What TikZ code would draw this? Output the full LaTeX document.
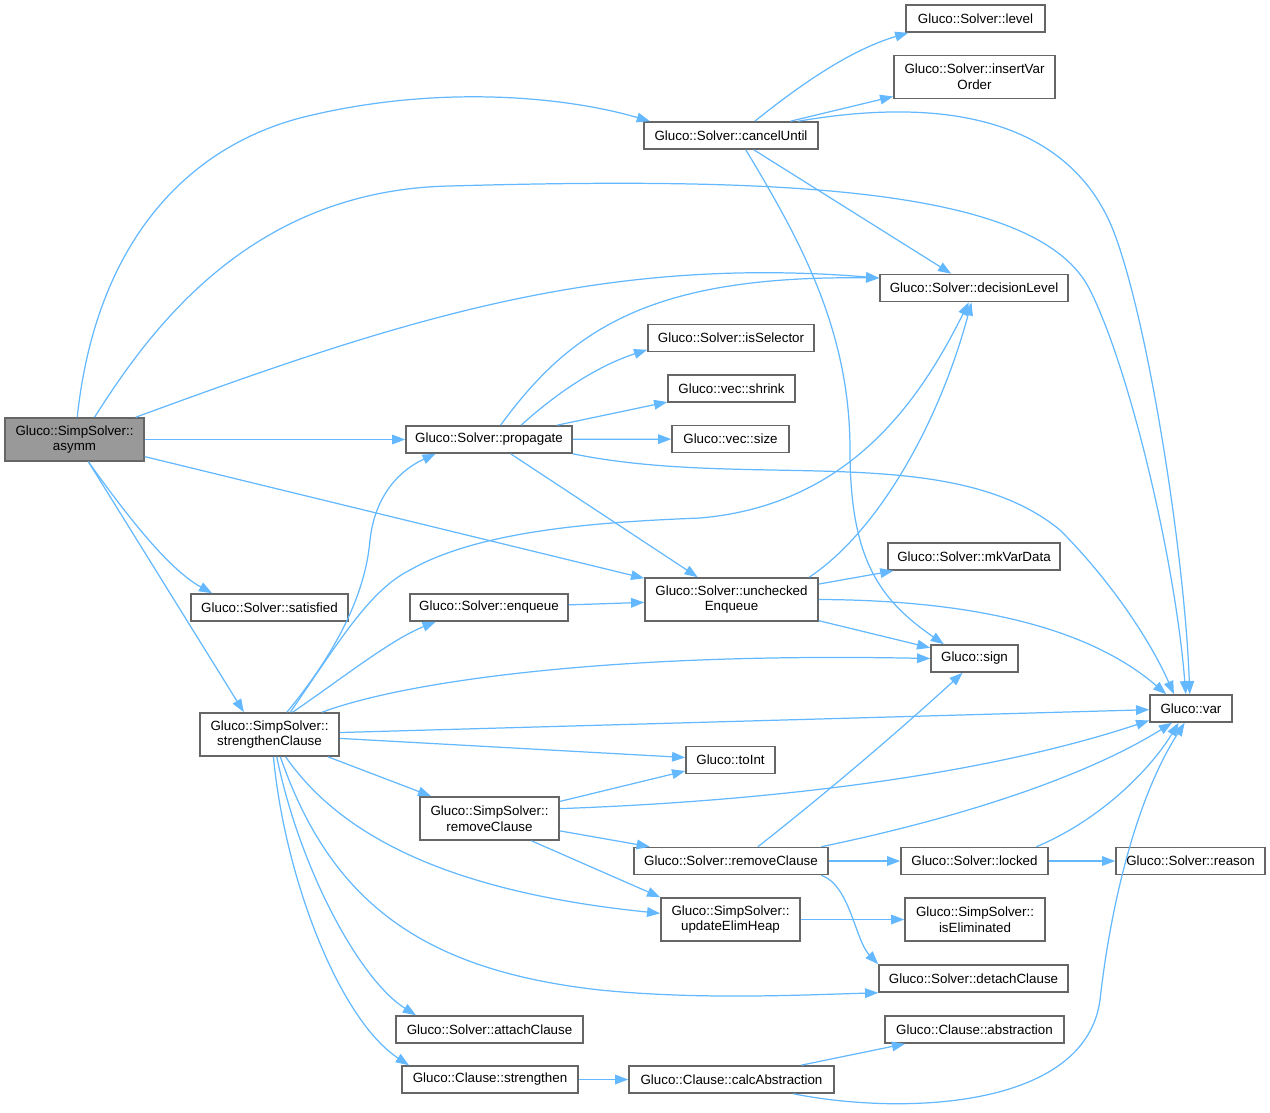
\documentclass[tikz,border=0pt]{standalone}
\usepackage{fontspec}
\setmainfont{Liberation Sans}
\usepackage{xcolor}
\usetikzlibrary{arrows.meta}

\definecolor{edgeblue}{HTML}{63B8FF}
\definecolor{boxgray}{HTML}{666666}
\definecolor{curgray}{HTML}{999999}

\begin{document}
\begin{tikzpicture}[x=0.02cm, y=-0.02cm,
    func/.style={draw=boxgray, line width=0.9pt, fill=white, inner sep=0pt,
      minimum height=0.54cm, align=center, font=\fontsize{7.6}{9}\selectfont},
    twoline/.style={minimum height=0.86cm},
    curfunc/.style={func, twoline, fill=curgray},
    calls/.style={->, draw=edgeblue, line width=0.7pt},
    >={Triangle[length=7.5pt, width=5.5pt]}]
    \useasboundingbox (0,0) rectangle (1270,1112);

    % Functions
    \node[curfunc, minimum width=2.78cm] (asymm) at (74.5,439.5) {Gluco::SimpSolver::\\asymm};
    \node[func, minimum width=3.48cm] (cancelUntil) at (731,135.5) {Gluco::Solver::cancelUntil};
    \node[func, minimum width=2.78cm] (level) at (975.5,18.5) {Gluco::Solver::level};
    \node[func, twoline, minimum width=3.22cm] (insertVarOrder) at (974.5,77) {Gluco::Solver::insertVar\\Order};
    \node[func, minimum width=3.76cm] (decisionLevel) at (974,288) {Gluco::Solver::decisionLevel};
    \node[func, minimum width=3.32cm] (isSelector) at (731,338) {Gluco::Solver::isSelector};
    \node[func, minimum width=2.54cm] (shrink) at (731.5,388.5) {Gluco::vec::shrink};
    \node[func, minimum width=2.34cm] (size) at (730.5,439) {Gluco::vec::size};
    \node[func, minimum width=3.32cm] (propagate) at (489,439.5) {Gluco::Solver::propagate};
    \node[func, minimum width=3.14cm] (satisfied) at (269.5,607.5) {Gluco::Solver::satisfied};
    \node[func, minimum width=3.16cm] (enqueue) at (489,607.5) {Gluco::Solver::enqueue};
    \node[func, twoline, minimum width=3.46cm] (uncheckedEnqueue) at (731.5,599.5) {Gluco::Solver::unchecked\\Enqueue};
    \node[func, minimum width=3.44cm] (mkVarData) at (974,556.5) {Gluco::Solver::mkVarData};
    \node[func, minimum width=1.74cm] (sign) at (974.5,658.5) {Gluco::sign};
    \node[func, minimum width=1.64cm] (var) at (1191,708.5) {Gluco::var};
    \node[func, twoline, minimum width=2.78cm] (strengthenClause) at (269.5,734.5) {Gluco::SimpSolver::\\strengthenClause};
    \node[func, minimum width=1.78cm] (toInt) at (730.5,760) {Gluco::toInt};
    \node[func, twoline, minimum width=2.78cm] (ssRemoveClause) at (489.5,818.5) {Gluco::SimpSolver::\\removeClause};
    \node[func, minimum width=3.88cm] (removeClause) at (731,861) {Gluco::Solver::removeClause};
    \node[func, minimum width=2.94cm] (locked) at (974.5,861) {Gluco::Solver::locked};
    \node[func, minimum width=2.98cm] (reason) at (1190.5,861) {Gluco::Solver::reason};
    \node[func, twoline, minimum width=2.78cm] (updateElimHeap) at (730.5,919.5) {Gluco::SimpSolver::\\updateElimHeap};
    \node[func, twoline, minimum width=2.8cm] (isEliminated) at (975,919.5) {Gluco::SimpSolver::\\isEliminated};
    \node[func, minimum width=3.78cm] (detachClause) at (973.5,978.5) {Gluco::Solver::detachClause};
    \node[func, minimum width=3.74cm] (attachClause) at (489.5,1029.5) {Gluco::Solver::attachClause};
    \node[func, minimum width=3.58cm] (abstraction) at (974.5,1029.5) {Gluco::Clause::abstraction};
    \node[func, minimum width=3.52cm] (strengthen) at (490,1079.5) {Gluco::Clause::strengthen};
    \node[func, minimum width=4.1cm] (calcAbstraction) at (731.5,1079.5) {Gluco::Clause::calcAbstraction};

    % Calls from asymm
    \draw[calls] (asymm.83) .. controls (95,250) and (180,150) .. (300,118) .. controls (430,85) and (560,95) .. (cancelUntil.170);
    \draw[calls] (asymm.48) .. controls (150,330) and (250,190) .. (450,186) .. controls (800,176) and (1040,190) .. (1090,290) .. controls (1130,370) and (1175,560) .. (var.110);
    \draw[calls] (asymm.20) .. controls (400,320) and (600,255) .. (decisionLevel.174);
    \draw[calls] (asymm) -- (propagate);
    \draw[calls] (asymm) -- (uncheckedEnqueue);
    \draw[calls] (asymm.-58) .. controls (130,520) and (170,570) .. (satisfied.166);
    \draw[calls] (asymm.-58) -- (strengthenClause.139);

    % Calls from cancelUntil
    \draw[calls] (cancelUntil.31) .. controls (800,85) and (850,50) .. (level.192);
    \draw[calls] (cancelUntil) -- (insertVarOrder);
    \draw[calls] (cancelUntil.12) .. controls (980,90) and (1080,140) .. (1115,235) .. controls (1150,330) and (1185,560) .. (var.95);
    \draw[calls] (cancelUntil) -- (decisionLevel);
    \draw[calls] (cancelUntil.-44) .. controls (800,240) and (850,330) .. (850,450) .. controls (850,560) and (880,600) .. (sign.155);

    % Calls from propagate
    \draw[calls] (propagate.51) .. controls (570,330) and (650,275) .. (decisionLevel.174);
    \draw[calls] (propagate.24) .. controls (560,390) and (600,365) .. (isSelector.188);
    \draw[calls] (propagate) -- (shrink);
    \draw[calls] (propagate) -- (size);
    \draw[calls] (propagate.south east) .. controls (750,490) and (950,440) .. (1060,530) .. controls (1110,580) and (1150,640) .. (var.140);
    \draw[calls] (propagate) -- (uncheckedEnqueue);

    % Calls from strengthenClause
    \draw[calls] (strengthenClause.52) .. controls (330,660) and (365,600) .. (370,540) .. controls (375,495) and (400,470) .. (propagate.195);
    \draw[calls] (strengthenClause.47) .. controls (340,640) and (370,590) .. (410,570) .. controls (480,530) and (600,522) .. (700,518) .. controls (850,505) and (920,400) .. (decisionLevel.-110);
    \draw[calls] (strengthenClause.44) .. controls (340,680) and (390,640) .. (enqueue.195);
    \draw[calls] (strengthenClause.23) .. controls (400,683) and (600,652) .. (sign.west);
    \draw[calls] (strengthenClause) -- (var);
    \draw[calls] (strengthenClause) -- (toInt);
    \draw[calls] (strengthenClause) -- (ssRemoveClause);
    \draw[calls] (strengthenClause.-54) .. controls (350,850) and (480,895) .. (updateElimHeap.175);
    \draw[calls] (strengthenClause.-64) .. controls (330,900) and (420,970) .. (600,990) .. controls (700,1000) and (800,995) .. (detachClause.south west);
    \draw[calls] (strengthenClause.-72) .. controls (300,870) and (360,980) .. (attachClause.169);
    \draw[calls] (strengthenClause.-80) .. controls (285,880) and (340,1020) .. (strengthen.170);

    % Calls from removeClause (SimpSolver)
    \draw[calls] (ssRemoveClause) -- (toInt);
    \draw[calls] (ssRemoveClause.8) .. controls (800,800) and (1000,770) .. (var.196);
    \draw[calls] (ssRemoveClause) -- (removeClause);
    \draw[calls] (ssRemoveClause.-28) -- (updateElimHeap.north west);

    % Calls from removeClause (Solver)
    \draw[calls] (removeClause.28) .. controls (830,790) and (900,730) .. (sign.-130);
    \draw[calls] (removeClause.9) .. controls (950,820) and (1080,780) .. (var.-143);
    \draw[calls] (removeClause) -- (locked);
    \draw[calls] (removeClause.-9) .. controls (850,885) and (855,940) .. (detachClause.north west);

    % Calls from locked
    \draw[calls] (locked.13) .. controls (1100,820) and (1150,770) .. (var.-131);
    \draw[calls] (locked) -- (reason);

    % Calls from uncheckedEnqueue
    \draw[calls] (uncheckedEnqueue.16) .. controls (880,530) and (940,420) .. (decisionLevel.-100);
    \draw[calls] (uncheckedEnqueue) -- (mkVarData);
    \draw[calls] (uncheckedEnqueue) -- (sign);
    \draw[calls] (uncheckedEnqueue.east) .. controls (950,600) and (1080,620) .. (var.150);

    % Remaining calls
    \draw[calls] (enqueue) -- (uncheckedEnqueue);
    \draw[calls] (updateElimHeap) -- (isEliminated);
    \draw[calls] (strengthen) -- (calcAbstraction);
    \draw[calls] (calcAbstraction) -- (abstraction);
    \draw[calls] (calcAbstraction.-13) .. controls (900,1115) and (1085,1110) .. (1100,1000) .. controls (1110,910) and (1135,800) .. (var.-114);
\end{tikzpicture}
\end{document}
